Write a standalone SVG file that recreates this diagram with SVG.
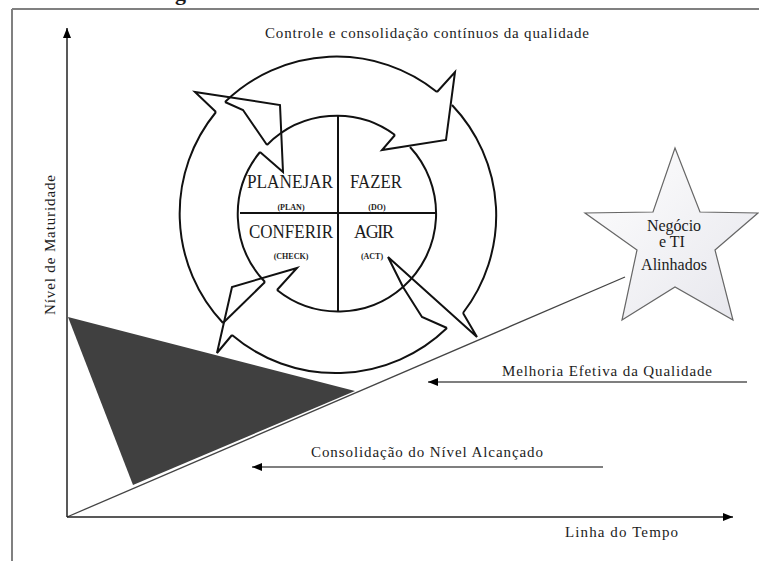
<svg xmlns="http://www.w3.org/2000/svg" width="759" height="561" viewBox="0 0 759 561" font-family="'Liberation Serif', serif">
  <style>
    text { font-family: 'Liberation Serif', serif; fill: #1c1c1c; }
    .sm { font-weight: bold; font-size: 8px; }
    .ring { fill: none; stroke: #111; stroke-width: 2; stroke-linejoin: miter; }
    .axis { stroke: #222; stroke-width: 1.5; fill: none; }
    .guide { stroke: #555; stroke-width: 1.6; fill: none; }
  </style>
  <defs>
    <marker id="ah" viewBox="0 0 10 8" refX="10" refY="4" markerWidth="10" markerHeight="8" orient="auto" markerUnits="userSpaceOnUse">
      <path d="M0,0 L10,4 L0,8 z" fill="#000"/>
    </marker>
    <linearGradient id="starFill" x1="0" y1="0" x2="1" y2="1">
      <stop offset="0" stop-color="#ffffff"/>
      <stop offset="1" stop-color="#e6e6ec"/>
    </linearGradient>
  </defs>

  <rect width="759" height="561" fill="#fff"/>

  <!-- page heading (clipped at the top edge) -->
  <text x="175" y="0" font-size="22" font-weight="bold">g</text>

  <!-- frame -->
  <path d="M12,9 H759 M12,9 V561" stroke="#808080" stroke-width="2" fill="none"/>

  <!-- maturity ramp -->
  <g id="ramp">
    <path d="M67,517 L625,277" stroke="#444" stroke-width="1.3" fill="none"/>
    <polygon points="68,317 355,391 133,485" fill="#404040"/>
  </g>

  <!-- axes -->
  <g id="axes">
    <path class="axis" d="M67,517 V28" marker-end="url(#ah)"/>
    <path class="axis" d="M67,517 H733" marker-end="url(#ah)"/>
    <text font-size="15" transform="translate(55,315) rotate(-90)" textLength="140" lengthAdjust="spacing">Nível de Maturidade</text>
    <text x="565" y="537" font-size="15" textLength="113" lengthAdjust="spacing">Linha do Tempo</text>
  </g>

  <text x="265" y="38" font-size="15" textLength="324" lengthAdjust="spacing">Controle e consolidação contínuos da qualidade</text>

  <!-- PDCA cycle -->
  <g id="cycle">
    <!-- quadrant cross inside the inner circle -->
    <path class="ring" d="M338,116 V312 M240,213 H436"/>

    <!-- top arrow: PLANEJAR to FAZER -->
    <g id="arrow-top">
      <path class="ring" d="M225,102 A160,160 0 0 1 437,92"/>
      <path class="ring" d="M267,145 A98,98 0 0 1 395,135"/>
      <path class="ring" d="M225,102 L243,110 L267,145"/>
      <path class="ring" d="M437,92 L455,72 L446,140 L382,150 L395,135"/>
    </g>

    <!-- right arrow: FAZER to AGIR -->
    <g id="arrow-right">
      <path class="ring" d="M452,105 A160,160 0 0 1 463,313"/>
      <path class="ring" d="M410,147 A98,98 0 0 1 403,287"/>
      <path class="ring" d="M463,313 L477,337 L388,257 L403,287"/>
    </g>

    <!-- bottom arrow: AGIR to CONFERIR -->
    <g id="arrow-bottom">
      <path class="ring" d="M447,328 A160,160 0 0 1 232,335"/>
      <path class="ring" d="M403,287 A98,98 0 0 1 277,290"/>
      <path class="ring" d="M447,328 L422,317 L403,287"/>
      <path class="ring" d="M232,335 L217,353 L232,287 L297,268 L277,290"/>
    </g>

    <!-- left arrow: CONFERIR to PLANEJAR -->
    <g id="arrow-left">
      <path class="ring" d="M223,323 A160,160 0 0 1 216,112"/>
      <path class="ring" d="M265,282 A98,98 0 0 1 260,152"/>
      <path class="ring" d="M223,323 L265,282"/>
      <path class="ring" d="M216,112 L195,92 L280,105 L283,172 L260,152"/>
    </g>

    <g id="q-plan">
      <text x="247" y="188" font-size="18" textLength="86" lengthAdjust="spacingAndGlyphs">PLANEJAR</text>
      <text class="sm" x="291" y="210" text-anchor="middle">(PLAN)</text>
    </g>
    <g id="q-do">
      <text x="350" y="188" font-size="18" textLength="52" lengthAdjust="spacingAndGlyphs">FAZER</text>
      <text class="sm" x="377" y="210" text-anchor="middle">(DO)</text>
    </g>
    <g id="q-check">
      <text x="249" y="238" font-size="18" textLength="84" lengthAdjust="spacingAndGlyphs">CONFERIR</text>
      <text class="sm" x="291" y="259" text-anchor="middle">(CHECK)</text>
    </g>
    <g id="q-act">
      <text x="354" y="238" font-size="18" textLength="40" lengthAdjust="spacing">AGIR</text>
      <text class="sm" x="372" y="259" text-anchor="middle">(ACT)</text>
    </g>
  </g>

  <!-- goal star -->
  <g id="goal">
    <polygon points="675,148 700,212 758,213 715,250 733,320 675,287 622,320 637,250 585,213 653,212" fill="url(#starFill)" stroke="#666" stroke-width="1.2"/>
    <text x="674" y="231" font-size="16" text-anchor="middle">Negócio</text>
    <text x="672" y="247" font-size="16" text-anchor="middle">e TI</text>
    <text x="674" y="270" font-size="16" text-anchor="middle">Alinhados</text>
  </g>

  <!-- horizontal indicators -->
  <g id="connectors">
    <path class="guide" d="M747,382 H428" marker-end="url(#ah)"/>
    <path class="guide" d="M603,467 H252" marker-end="url(#ah)"/>
  </g>
  <text x="502" y="376" font-size="15" textLength="210" lengthAdjust="spacing">Melhoria Efetiva da Qualidade</text>
  <text x="311" y="457" font-size="15" textLength="232" lengthAdjust="spacing">Consolidação do Nível Alcançado</text>
</svg>
